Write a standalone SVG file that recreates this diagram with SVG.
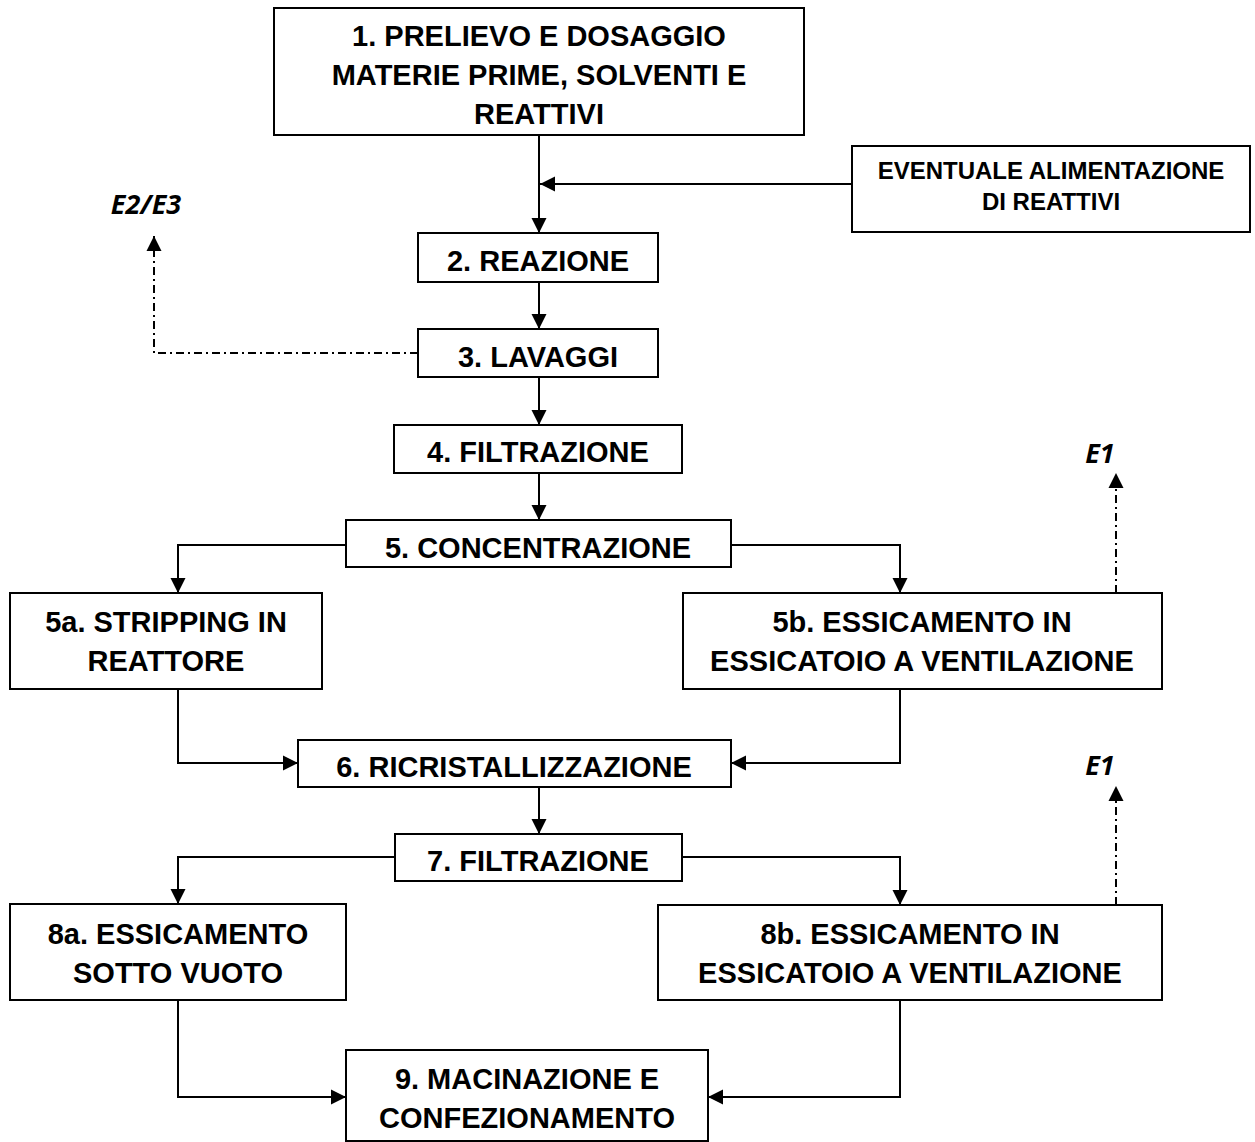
<svg xmlns="http://www.w3.org/2000/svg" width="1255" height="1142" viewBox="0 0 1255 1142">
<defs>
<marker id="ah" markerUnits="userSpaceOnUse" markerWidth="16" markerHeight="16" viewBox="0 0 16 16" refX="15" refY="8" orient="auto">
<path d="M0,0.5 L15,8 L0,15.5 Z" fill="#000"/>
</marker>
<style>
.box{fill:#fff;stroke:#000;stroke-width:2}
.t{font-family:"Liberation Sans",Arial,sans-serif;font-weight:bold;font-size:29px;text-anchor:middle;fill:#000}
.ts{font-family:"Liberation Sans",Arial,sans-serif;font-weight:bold;font-size:24px;text-anchor:middle;fill:#000}
.e{font-family:"Open Sans","Noto Sans",sans-serif;font-weight:bold;font-style:italic;font-size:27px;text-anchor:middle;fill:#000}
.c{fill:none;stroke:#000;stroke-width:2}
.d{fill:none;stroke:#000;stroke-width:2;stroke-dasharray:8 4 2 4}
</style>
</defs>
<rect width="1255" height="1142" fill="#fff"/>
<g id="connectors">
<path class="c" d="M539,135 V233" marker-end="url(#ah)"/>
<path class="c" d="M852,184 H540" marker-end="url(#ah)"/>
<path class="c" d="M539,282 V329" marker-end="url(#ah)"/>
<path class="d" d="M418,353 H154 V236" marker-end="url(#ah)"/>
<path class="c" d="M539,377 V425" marker-end="url(#ah)"/>
<path class="c" d="M539,473 V520" marker-end="url(#ah)"/>
<path class="c" d="M346,545 H178 V593" marker-end="url(#ah)"/>
<path class="c" d="M731,545 H900 V593" marker-end="url(#ah)"/>
<path class="d" d="M1116,593 V473" marker-end="url(#ah)"/>
<path class="c" d="M178,689 V763 H298" marker-end="url(#ah)"/>
<path class="c" d="M900,689 V763 H731" marker-end="url(#ah)"/>
<path class="c" d="M539,787 V834" marker-end="url(#ah)"/>
<path class="c" d="M395,857 H178 V904" marker-end="url(#ah)"/>
<path class="c" d="M682,857 H900 V905" marker-end="url(#ah)"/>
<path class="d" d="M1116,905 V786" marker-end="url(#ah)"/>
<path class="c" d="M178,1000 V1097 H346" marker-end="url(#ah)"/>
<path class="c" d="M900,1000 V1097 H708" marker-end="url(#ah)"/>
</g>
<g id="n1"><rect class="box" x="274" y="8" width="530" height="127"/>
<text class="t" x="539" y="46">1. PRELIEVO E DOSAGGIO</text>
<text class="t" x="539" y="85">MATERIE PRIME, SOLVENTI E</text>
<text class="t" x="539" y="124">REATTIVI</text></g>
<g id="nev"><rect class="box" x="852" y="146" width="398" height="86"/>
<text class="ts" x="1051" y="179">EVENTUALE ALIMENTAZIONE</text>
<text class="ts" x="1051" y="210">DI REATTIVI</text></g>
<g id="n2"><rect class="box" x="418" y="233" width="240" height="49"/>
<text class="t" x="538" y="271">2. REAZIONE</text></g>
<g id="e23"><text class="e" x="146" y="214">E2/E3</text></g>
<g id="n3"><rect class="box" x="418" y="329" width="240" height="48"/>
<text class="t" x="538" y="367">3. LAVAGGI</text></g>
<g id="n4"><rect class="box" x="394" y="425" width="288" height="48"/>
<text class="t" x="538" y="462">4. FILTRAZIONE</text></g>
<g id="n5"><rect class="box" x="346" y="520" width="385" height="47"/>
<text class="t" x="538" y="558">5. CONCENTRAZIONE</text></g>
<g id="n5a"><rect class="box" x="10" y="593" width="312" height="96"/>
<text class="t" x="166" y="632">5a. STRIPPING IN</text>
<text class="t" x="166" y="671">REATTORE</text></g>
<g id="n5b"><rect class="box" x="683" y="593" width="479" height="96"/>
<text class="t" x="922" y="632">5b. ESSICAMENTO IN</text>
<text class="t" x="922" y="671">ESSICATOIO A VENTILAZIONE</text></g>
<g id="e1a"><text class="e" x="1100" y="463">E1</text></g>
<g id="n6"><rect class="box" x="298" y="740" width="433" height="47"/>
<text class="t" x="514" y="777">6. RICRISTALLIZZAZIONE</text></g>
<g id="n7"><rect class="box" x="395" y="834" width="287" height="47"/>
<text class="t" x="538" y="871">7. FILTRAZIONE</text></g>
<g id="e1b"><text class="e" x="1100" y="775">E1</text></g>
<g id="n8a"><rect class="box" x="10" y="904" width="336" height="96"/>
<text class="t" x="178" y="944">8a. ESSICAMENTO</text>
<text class="t" x="178" y="983">SOTTO VUOTO</text></g>
<g id="n8b"><rect class="box" x="658" y="905" width="504" height="95"/>
<text class="t" x="910" y="944">8b. ESSICAMENTO IN</text>
<text class="t" x="910" y="983">ESSICATOIO A VENTILAZIONE</text></g>
<g id="n9"><rect class="box" x="346" y="1050" width="362" height="91"/>
<text class="t" x="527" y="1089">9. MACINAZIONE E</text>
<text class="t" x="527" y="1128">CONFEZIONAMENTO</text></g>
</svg>
